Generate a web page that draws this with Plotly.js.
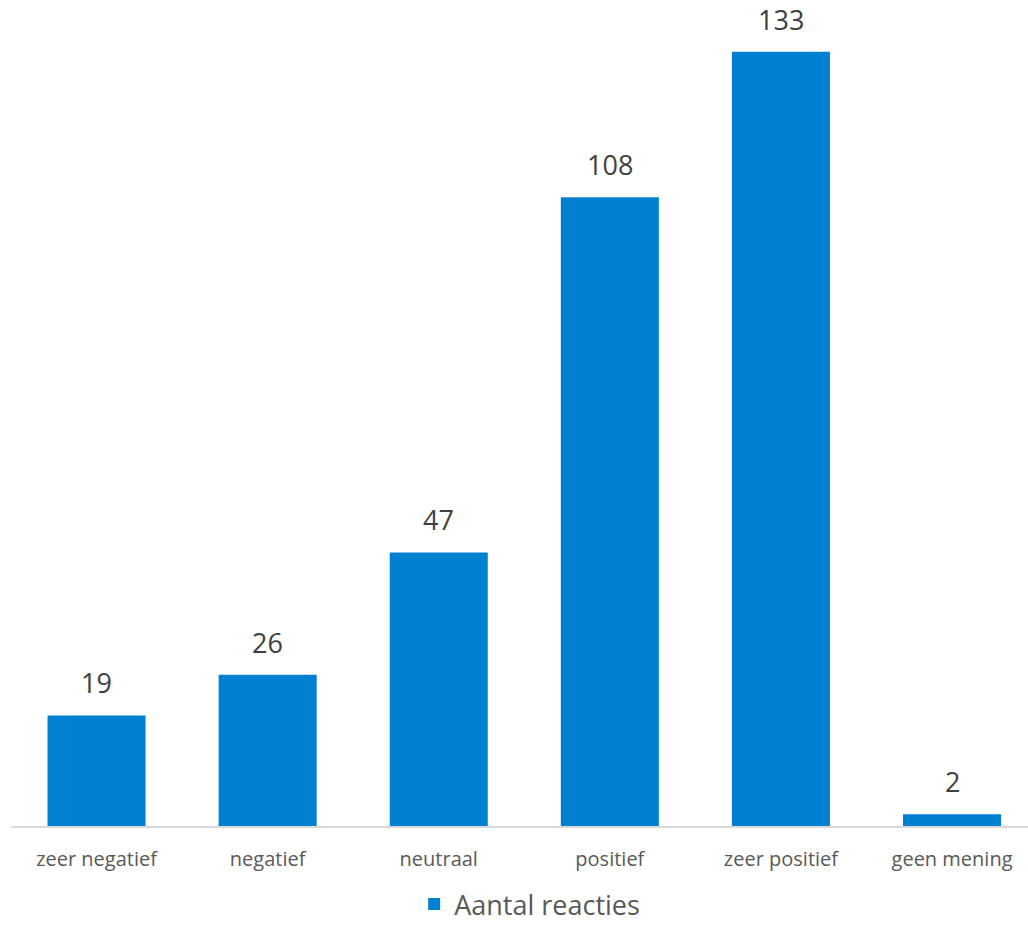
<!DOCTYPE html>
<html>
<head>
<meta charset="utf-8">
<script src="https://cdn.plot.ly/plotly-3.0.1.min.js"></script>
<style>html,body{margin:0;padding:0;background:#fff;}#chart{width:1028px;height:929px;}</style>
</head>
<body>
<div id="chart"></div>
<script>
const categories = ["zeer negatief", "negatief", "neutraal", "positief", "zeer positief", "geen mening"];
const values = [19, 26, 47, 108, 133, 2];
const seriesName = "Aantal reacties";

const trace = {
  type: 'bar',
  x: categories,
  y: values,
  name: seriesName,
  marker: {color: '#0080d0'},
  showlegend: true
};

const annotations = categories.map((c, i) => ({
  x: c, y: values[i], xref: 'x', yref: 'y',
  text: String(values[i]), showarrow: false,
  yanchor: 'bottom', yshift: 12,
  font: {family: 'Open Sans, sans-serif', size: 27, color: '#404040'}
}));

const layout = {
  width: 1028,
  height: 929,
  margin: {l: 11, r: 0, t: 11, b: 103},
  paper_bgcolor: '#ffffff',
  plot_bgcolor: '#ffffff',
  bargap: 0.427,
  showlegend: true,
  legend: {
    orientation: 'h', x: 0.51, xanchor: 'center',
    yref: 'container', y: 0, yanchor: 'bottom',
    font: {family: 'Open Sans, sans-serif', size: 27, color: '#595959'}
  },
  annotations: annotations,
  xaxis: {
    range: [-0.5, 5.444],
    automargin: false,
    showline: true, linecolor: '#d9d9d9', linewidth: 1.5,
    showgrid: false, zeroline: false,
    ticks: 'outside', ticklen: 14, tickcolor: 'rgba(0,0,0,0)',
    tickfont: {family: 'Open Sans, sans-serif', size: 20, color: '#595959'}
  },
  yaxis: {
    range: [0, 140],
    automargin: false,
    visible: false, showgrid: false, zeroline: false
  }
};

Plotly.newPlot('chart', [trace], layout, {displayModeBar: false, staticPlot: true});
</script>
</body>
</html>
